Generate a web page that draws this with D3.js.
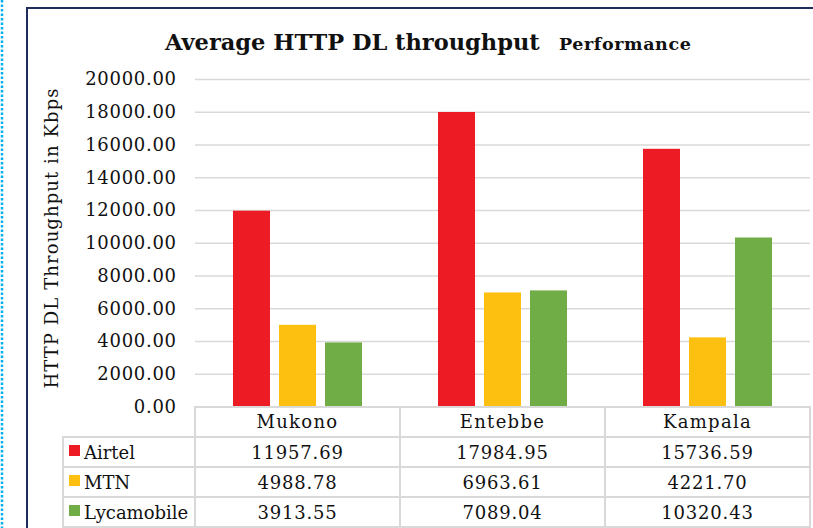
<!DOCTYPE html>
<html>
<head>
<meta charset="utf-8">
<script src="https://cdn.jsdelivr.net/npm/d3@7"></script>
<style>
  body { margin: 0; background: #fff; }
  text { font-family: "DejaVu Serif", serif; fill: #111; }
  .grid line { stroke: #d9d9d9; stroke-width: 1.5; }
  .grid .domain { display: none; }
</style>
</head>
<body>
<script>
//data
var cities = ["Mukono", "Entebbe", "Kampala"];
var operators = ["Airtel", "MTN", "Lycamobile"];
var airtel = [11957.69, 17984.95, 15736.59];
var mtn = [4988.78, 6963.61, 4221.70];
var lycamobile = [3913.55, 7089.04, 10320.43];
var yTicks = [0, 2000, 4000, 6000, 8000, 10000, 12000, 14000, 16000, 18000, 20000];
var colors = ["#ed1c24", "#fdc010", "#70ad47"];

window.onload = function(){

    var w = 813,
        h = 528;

    var svg = d3.select("body")
        .append("svg")
        .attr("width", w)
        .attr("height", h);

    //dotted blue line on the far left
    svg.append("line")
        .attr("x1", 2).attr("x2", 2)
        .attr("y1", 0).attr("y2", h)
        .style("stroke", "#00b0f0")
        .style("stroke-width", 2.5)
        .style("stroke-dasharray", "2.5,2");

    //frame (left and top edges)
    svg.append("path")
        .attr("d", "M27," + h + "V8H" + w)
        .style("fill", "none")
        .style("stroke", "#1f2d5c")
        .style("stroke-width", 2);

    //series table built from the arrays
    var series = [airtel, mtn, lycamobile].map(function(vals, i){
        return { name: operators[i], values: vals, color: colors[i] };
    });

    //scales
    var x0 = d3.scaleBand()
        .domain(cities)
        .range([195, 810]);

    var x1 = d3.scaleBand()
        .domain(operators)
        .range([0, x0.bandwidth()])
        .paddingInner(0.1957)
        .paddingOuter(0.826);

    var y = d3.scaleLinear()
        .domain([0, 20000])
        .range([406.5, 79]);

    //gridlines
    svg.append("g")
        .attr("class", "grid")
        .attr("transform", "translate(195,0)")
        .call(d3.axisLeft(y).tickValues(yTicks.slice(1)).tickSize(-615).tickFormat(""));

    //y axis labels
    var yAxis = svg.append("g")
        .attr("transform", "translate(195,0)")
        .call(d3.axisLeft(y).tickValues(yTicks).tickSize(0).tickPadding(18.3)
            .tickFormat(d3.format(".2f")));
    yAxis.select(".domain").remove();
    yAxis.selectAll("text")
        .style("font-family", "'DejaVu Serif', serif")
        .style("font-size", "18px")
        .style("letter-spacing", "0.7px")
        .style("fill", "#111");

    //y axis title
    svg.append("text")
        .attr("transform", "translate(58,238) rotate(-90)")
        .attr("text-anchor", "middle")
        .style("font-size", "18px")
        .style("letter-spacing", "1.1px")
        .text("HTTP DL Throughput in Kbps");

    //title
    var title = svg.append("text")
        .attr("x", 165)
        .attr("y", 50)
        .style("font-weight", "bold");
    title.append("tspan")
        .style("font-size", "22.5px")
        .text("Average HTTP DL throughput");
    title.append("tspan")
        .attr("x", 559)
        .style("font-size", "17.5px")
        .style("letter-spacing", "0.6px")
        .text("Performance");

    //bars
    var groups = svg.selectAll(".series")
        .data(series)
        .enter()
        .append("g")
        .attr("class", "series")
        .style("fill", function(d){ return d.color; });

    groups.selectAll("rect")
        .data(function(d){
            return d.values.map(function(v, i){ return { op: d.name, city: cities[i], value: v }; });
        })
        .enter()
        .append("rect")
        .attr("x", function(d){ return x0(d.city) + x1(d.op); })
        .attr("width", x1.bandwidth())
        .attr("y", function(d){ return y(d.value); })
        .attr("height", function(d){ return y(0) - y(d.value); });

    //data table
    var rowTop = 407,
        rowH = 30,
        legendLeft = 63;
    var tableLine = { stroke: "#d9d9d9", width: 2 };

    var table = svg.append("g").attr("class", "table");

    //header cells
    table.selectAll(".head")
        .data(cities)
        .enter()
        .append("rect")
        .attr("x", function(d){ return x0(d); })
        .attr("y", rowTop)
        .attr("width", x0.bandwidth())
        .attr("height", rowH);

    //value cells
    series.forEach(function(s, r){
        var top = rowTop + rowH * (r + 1);
        table.append("rect")
            .attr("x", legendLeft)
            .attr("y", top)
            .attr("width", 195 - legendLeft)
            .attr("height", rowH);
        cities.forEach(function(c){
            table.append("rect")
                .attr("x", x0(c))
                .attr("y", top)
                .attr("width", x0.bandwidth())
                .attr("height", rowH);
        });
    });
    table.selectAll("rect")
        .style("fill", "none")
        .style("stroke", tableLine.stroke)
        .style("stroke-width", tableLine.width);

    //header text
    table.selectAll(".headText")
        .data(cities)
        .enter()
        .append("text")
        .attr("x", function(d){ return x0(d) + x0.bandwidth() / 2; })
        .attr("y", rowTop + 21)
        .attr("text-anchor", "middle")
        .style("font-size", "18px")
        .style("letter-spacing", "1.3px")
        .text(function(d){ return d; });

    var fmt = d3.format(".2f");
    series.forEach(function(s, r){
        var top = rowTop + rowH * (r + 1);
        //legend key
        table.append("rect")
            .attr("x", 69)
            .attr("y", top + 8)
            .attr("width", 11)
            .attr("height", 11)
            .style("fill", s.color);
        table.append("text")
            .attr("x", 84)
            .attr("y", top + 22)
            .style("font-size", "18px")
            .text(s.name);
        s.values.forEach(function(v, i){
            table.append("text")
                .attr("x", x0(cities[i]) + x0.bandwidth() / 2)
                .attr("y", top + 22)
                .attr("text-anchor", "middle")
                .style("font-size", "18px")
                .style("letter-spacing", "0.8px")
                .text(fmt(v));
        });
    });
};
</script>
</body>
</html>
